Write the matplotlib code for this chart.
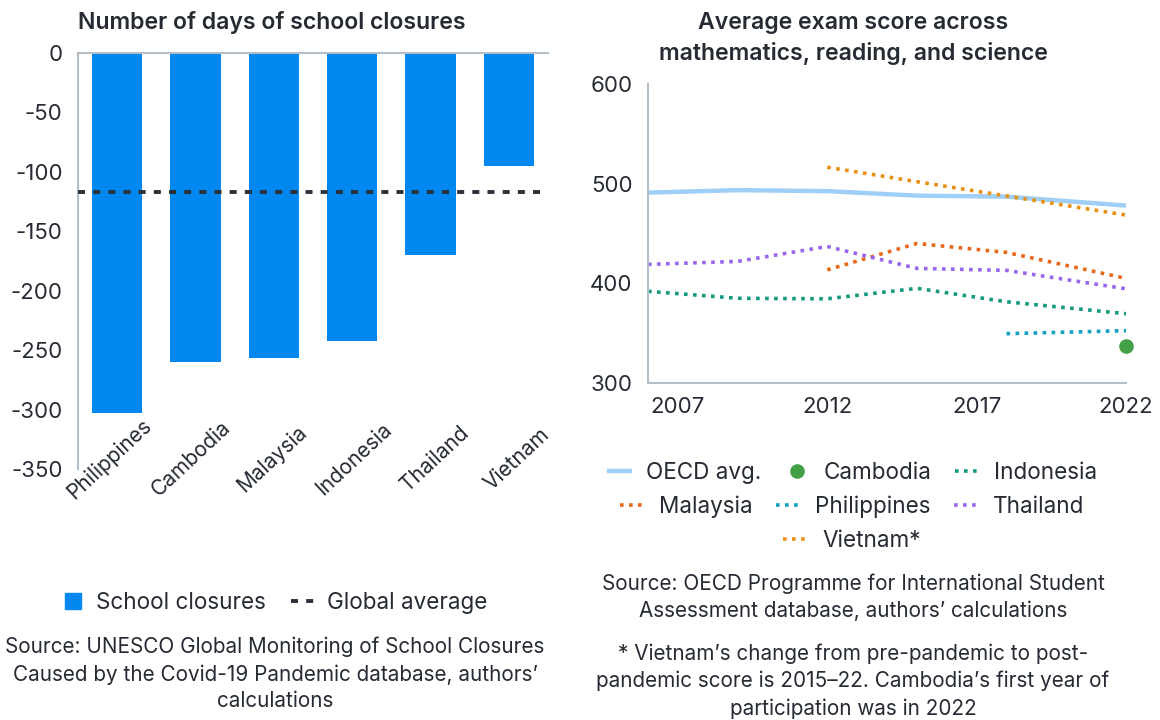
import numpy as np
import matplotlib.pyplot as plt
from matplotlib.lines import Line2D
import matplotlib.transforms as mtransforms

plt.rcParams['font.family'] = ['Inter', 'DejaVu Sans']
plt.rcParams['axes.unicode_minus'] = False

# --- data: school closures (days, shown negative) ---
countries = ['Philippines', 'Cambodia', 'Malaysia', 'Indonesia', 'Thailand', 'Vietnam']
closure_days = [-303, -260, -257, -242, -170, -95]
global_avg = -117

# --- data: PISA average score ---
years = [2006, 2009, 2012, 2015, 2018, 2022]
oecd = [491, 493.5, 492.5, 488, 487, 478]
vn_years = [2012, 2015, 2022]
vietnam = [516.5, 502, 468.5]
my_years = [2012, 2015, 2018, 2022]
malaysia = [413.5, 440, 431, 405]
thailand = [419, 422, 437, 415, 413, 394.5]
indonesia = [392, 385, 384.5, 395, 381.5, 369.5]
ph_years = [2018, 2022]
philippines = [349.5, 352.5]
kh_years = [2022]
cambodia = [337]

txt = '#262b33'
spine = '#b4bec9'

fig = plt.figure(figsize=(11.6, 7.2), dpi=100)

# ---------- left: bars ----------
ax1 = fig.add_axes([78/1160, 1-469/720, 470/1160, 416/720])
x = np.arange(len(countries))
ax1.bar(x, closure_days, width=0.64, color='#0088f0', zorder=2)
ax1.axhline(global_avg, color='#2b3138', lw=2.8, linestyle=(0, (1.8, 2.1)), zorder=3)
ax1.set_xlim(-0.5, 5.5)
ax1.set_ylim(-350, 0)
ax1.set_yticks(np.arange(-350, 1, 50))
ax1.tick_params(axis='y', length=0, pad=11, labelsize=16, labelcolor=txt)
ax1.set_xticks([])
for s in ['right', 'bottom']:
    ax1.spines[s].set_visible(False)
ax1.spines['left'].set_color(spine)
ax1.spines['top'].set_color(spine)
ax1.spines['left'].set_linewidth(1.5)
ax1.spines['top'].set_linewidth(1.5)
trans = mtransforms.blended_transform_factory(ax1.transData, ax1.transAxes)
for i, c in enumerate(countries):
    ax1.text(i + (i - 2.5) * 0.04, 0.024, c, rotation=43, ha='center', va='center',
             fontsize=15, color=txt, transform=trans)
fig.text(78/1160, 1-22/720, 'Number of days of school closures', ha='left', va='center',
         fontsize=16.6, fontweight='semibold', color=txt)

h1 = [Line2D([], [], color='#0088f0', marker='s', ms=12, lw=0),
      Line2D([], [], color='#2b3138', lw=2.8, linestyle=(0, (1.8, 2.1)))]
fig.legend(h1, ['School closures', 'Global average'], loc='center',
           bbox_to_anchor=(274/1160, 1-603/720), ncol=2, frameon=False,
           fontsize=16.2, labelcolor=txt, handlelength=1.1, handletextpad=0.5,
           columnspacing=1.1, borderpad=0, borderaxespad=0)
fig.text(275/1160, 1-674/720,
         'Source: UNESCO Global Monitoring of School Closures\n'
         'Caused by the Covid-19 Pandemic database, authors\u2019\ncalculations',
         ha='center', va='center', fontsize=14.9, color=txt, linespacing=1.42)

# ---------- right: lines ----------
ax2 = fig.add_axes([648/1160, 1-383/720, 478/1160, 299/720])
dot = (0, (1, 1.5))
ax2.plot(years, oecd, color='#9fcff7', lw=3.2, solid_capstyle='butt', label='OECD avg.')
ax2.plot(kh_years, cambodia, 'o', color='#43a047', ms=9.5, label='Cambodia', clip_on=False)
ax2.plot(years, indonesia, color='#14997d', lw=2.6, linestyle=dot, label='Indonesia')
ax2.plot(my_years, malaysia, color='#e8681a', lw=2.6, linestyle=dot, label='Malaysia')
ax2.plot(ph_years, philippines, color='#10a0c0', lw=2.6, linestyle=dot, label='Philippines')
ax2.plot(years, thailand, color='#9966ee', lw=2.6, linestyle=dot, label='Thailand')
ax2.plot(vn_years, vietnam, color='#e8900f', lw=2.6, linestyle=dot, label='Vietnam*')
ax2.set_xlim(2006, 2022)
ax2.set_ylim(300, 600)
ax2.set_xticks([2007, 2012, 2017, 2022])
ax2.set_yticks([300, 400, 500, 600])
ax2.tick_params(length=0, labelsize=16, labelcolor=txt)
ax2.tick_params(axis='y', pad=11)
ax2.tick_params(axis='x', pad=10)
for s in ['right', 'top']:
    ax2.spines[s].set_visible(False)
for s in ['left', 'bottom']:
    ax2.spines[s].set_color(spine)
    ax2.spines[s].set_linewidth(1.5)
fig.text(853/1160, 1-38.5/720, 'Average exam score across\nmathematics, reading, and science',
         ha='center', va='center', fontsize=16.6, fontweight='semibold', color=txt,
         linespacing=1.45)

hs, ls = ax2.get_legend_handles_labels()
rows = [(0, 3, 473), (3, 6, 507), (6, 7, 541)]
for a, b, yy in rows:
    fig.legend(hs[a:b], ls[a:b], loc='center', bbox_to_anchor=(852/1160, 1-yy/720),
               ncol=b-a, frameon=False, fontsize=16.2, labelcolor=txt,
               handlelength=1.1, handletextpad=0.62, columnspacing=1.05,
               borderpad=0, borderaxespad=0)

fig.text(853/1160, 1-597/720,
         'Source: OECD Programme for International Student\n'
         'Assessment database, authors\u2019 calculations',
         ha='center', va='center', fontsize=14.9, color=txt, linespacing=1.42)
fig.text(853/1160, 1-681/720,
         '* Vietnam\u2019s change from pre-pandemic to post-\n'
         'pandemic score is 2015\u201322. Cambodia\u2019s first year of\n'
         'participation was in 2022',
         ha='center', va='center', fontsize=14.9, color=txt, linespacing=1.42)

fig.savefig('out.png', dpi=100)
